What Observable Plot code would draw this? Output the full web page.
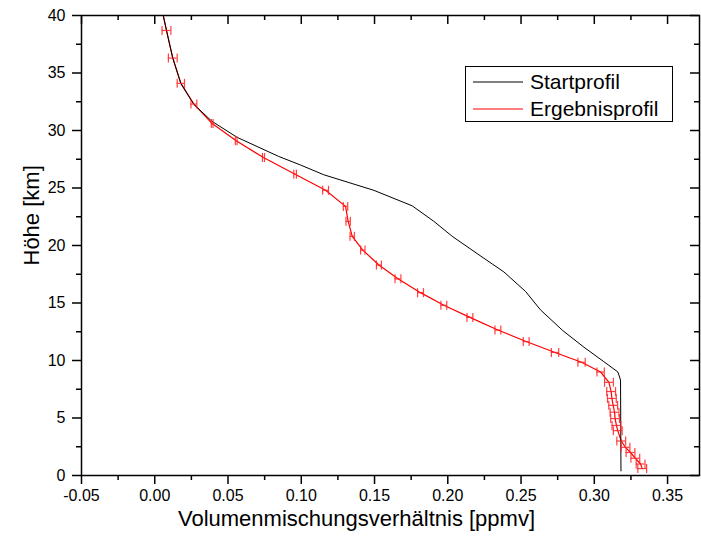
<!DOCTYPE html>
<html>
<head>
<meta charset="utf-8">
<script src="https://cdn.jsdelivr.net/npm/d3@7"></script>
<script src="https://cdn.jsdelivr.net/npm/@observablehq/plot@0.6"></script>
<style>
  html, body { margin: 0; padding: 0; background: #fff; }
  #chart { position: relative; width: 701px; height: 545px; }
  svg { font-family: "Liberation Sans", Arial, sans-serif; }
</style>
</head>
<body>
<div id="chart"></div>
<script>
// ---- data ----
const xLabel = "Volumenmischungsverhältnis [ppmv]";
const yLabel = "Höhe [km]";
const seriesNames = ["Startprofil", "Ergebnisprofil"];

const xTicks = [-0.05, 0.00, 0.05, 0.10, 0.15, 0.20, 0.25, 0.30, 0.35];
const xMinor = [-0.025, 0.025, 0.075, 0.125, 0.175, 0.225, 0.275, 0.325];
const yTicks = [0, 5, 10, 15, 20, 25, 30, 35, 40];
const yMinor = [2.5, 7.5, 12.5, 17.5, 22.5, 27.5, 32.5, 37.5];

// Startprofil (black)
const startHeight = [40, 38.7, 36.3, 34.1, 32.3, 30.8, 29.4, 27.75, 27.0, 26.15, 24.8, 23.45, 22.1, 20.8, 19.3, 17.7, 16.0, 14.4, 12.6, 11.16, 9.9, 9.0, 8.3, 0.4];
const startValue  = [0.0058, 0.008, 0.0123, 0.0178, 0.0265, 0.039, 0.0563, 0.0845, 0.0995, 0.1154, 0.1495, 0.1757, 0.1905, 0.203, 0.220, 0.2383, 0.2531, 0.2633, 0.2785, 0.2929, 0.3065, 0.3161, 0.3179, 0.3182];

// Ergebnisprofil (red) with x error
const resultHeight = [40, 38.7, 36.3, 34.1, 32.3, 30.6, 29.1, 27.65, 26.2, 24.8, 23.4, 22.1, 20.8, 19.6, 18.3, 17.1, 15.9, 14.8, 13.75, 12.65, 11.65, 10.7, 9.85, 9.0, 8.1, 7.3, 6.7, 6.1, 5.5, 4.95, 4.35, 3.9, 3.0, 2.45, 2.0, 1.5, 1.0, 0.6];
const resultValue  = [0.0058, 0.008, 0.0123, 0.0178, 0.0267, 0.0392, 0.0556, 0.0742, 0.0958, 0.1166, 0.1302, 0.132, 0.1348, 0.142, 0.153, 0.166, 0.1814, 0.1973, 0.2151, 0.2342, 0.2535, 0.2732, 0.2913, 0.3043, 0.310, 0.3115, 0.312, 0.3129, 0.3138, 0.3142, 0.3151, 0.316, 0.3184, 0.3213, 0.3247, 0.328, 0.3316, 0.3327];
const resultError  = [0, 0.003, 0.003, 0.0025, 0.002, 0.0006, 0.0006, 0.0007, 0.0009, 0.002, 0.0015, 0.0015, 0.0015, 0.0015, 0.0017, 0.002, 0.002, 0.002, 0.002, 0.002, 0.002, 0.0025, 0.0025, 0.0025, 0.003, 0.003, 0.003, 0.003, 0.003, 0.003, 0.003, 0.003, 0.003, 0.003, 0.003, 0.003, 0.003, 0.003];

const start = startHeight.map((h, i) => ({h, v: startValue[i]}));
const result = resultHeight.map((h, i) => ({h, v: resultValue[i], e: resultError[i]}));
const errs = result.filter(d => d.e > 0);

// vertical bar symbol for error-bar caps
const vbar = {
  draw(context, size) {
    const r = Math.sqrt(size / Math.PI);
    context.moveTo(0, -r);
    context.lineTo(0, r);
  }
};

const fmt2 = v => d3.format(".2f")(v).replace("\u2212", "-");

const W = 701, H = 545;
const mL = 81, mR = 2, mT = 15, mB = 70;
const frameW = W - mL - mR, frameH = H - mT - mB;

const plot = Plot.plot({
  width: W,
  height: H,
  marginLeft: mL,
  marginRight: mR,
  marginTop: mT,
  marginBottom: mB,
  style: {fontFamily: "'Liberation Sans', Arial, sans-serif", color: "#000", background: "#fff"},
  x: {domain: [-0.05, 0.3718]},
  y: {domain: [0, 40]},
  marks: [
    Plot.line(result, {x: "v", y: "h", stroke: "#ff0000", strokeWidth: 1.2}),
    Plot.line(start, {x: "v", y: "h", stroke: "#000", strokeWidth: 1}),
    Plot.ruleY(errs, {y: "h", x1: d => d.v - d.e, x2: d => d.v + d.e, stroke: "#ff2020", strokeOpacity: 0.85, strokeWidth: 1.2}),
    Plot.dot(errs, {x: d => d.v - d.e, y: "h", symbol: vbar, r: 4.5, stroke: "#ff2020", strokeOpacity: 0.85, strokeWidth: 1.2, fill: "none"}),
    Plot.dot(errs, {x: d => d.v + d.e, y: "h", symbol: vbar, r: 4.5, stroke: "#ff2020", strokeOpacity: 0.85, strokeWidth: 1.2, fill: "none"}),
    Plot.axisX(xTicks, {anchor: "bottom", tickSize: 9, tickPadding: 5, strokeWidth: 1.5, tickFormat: fmt2, fontSize: 16, label: null}),
    Plot.axisX(xMinor, {anchor: "bottom", tickSize: 5, strokeWidth: 1.5, fill: "none", label: null}),
    Plot.axisY(yTicks, {anchor: "left", tickSize: 9, tickPadding: 7, strokeWidth: 1.5, fontSize: 16, label: null}),
    Plot.axisY(yMinor, {anchor: "left", tickSize: 5, strokeWidth: 1.5, fill: "none", label: null}),
    Plot.tickX(xTicks, {x: d => d, insetBottom: frameH - 9, stroke: "#000", strokeWidth: 1.5}),
    Plot.tickX(xMinor, {x: d => d, insetBottom: frameH - 5, stroke: "#000", strokeWidth: 1.5}),
    Plot.tickY(yTicks, {y: d => d, insetLeft: frameW - 9, stroke: "#000", strokeWidth: 1.5}),
    Plot.tickY(yMinor, {y: d => d, insetLeft: frameW - 5, stroke: "#000", strokeWidth: 1.5}),
    Plot.frame({stroke: "#000", strokeWidth: 1.5}),
    Plot.text([xLabel], {frameAnchor: "bottom", text: d => d, dx: -34, dy: 50, fontSize: 22, fill: "#000"}),
    Plot.text([yLabel], {frameAnchor: "left", text: d => d, rotate: -90, dx: -50, dy: 20, fontSize: 22, fill: "#000"})
  ]
});

document.getElementById("chart").appendChild(plot);

// legend (inside plot area, upper right)
const svg = d3.select(plot);
const lg = svg.append("g").attr("font-family", "'Liberation Sans', Arial, sans-serif").attr("text-anchor", "start");
lg.append("rect").attr("x", 465.5).attr("y", 66.5).attr("width", 207).attr("height", 55)
  .attr("fill", "#fff").attr("stroke", "#000").attr("stroke-width", 1);
const legendColors = ["#000", "#ff0000"];
seriesNames.forEach((name, i) => {
  const y = 82 + i * 27;
  lg.append("line").attr("x1", 473).attr("x2", 523).attr("y1", y).attr("y2", y)
    .attr("stroke", legendColors[i]).attr("stroke-width", i ? 1.2 : 1);
  lg.append("text").attr("x", 530).attr("y", y).attr("dy", "0.35em")
    .attr("text-anchor", "start").attr("font-size", 21).attr("fill", "#000").text(name);
});
</script>
</body>
</html>
